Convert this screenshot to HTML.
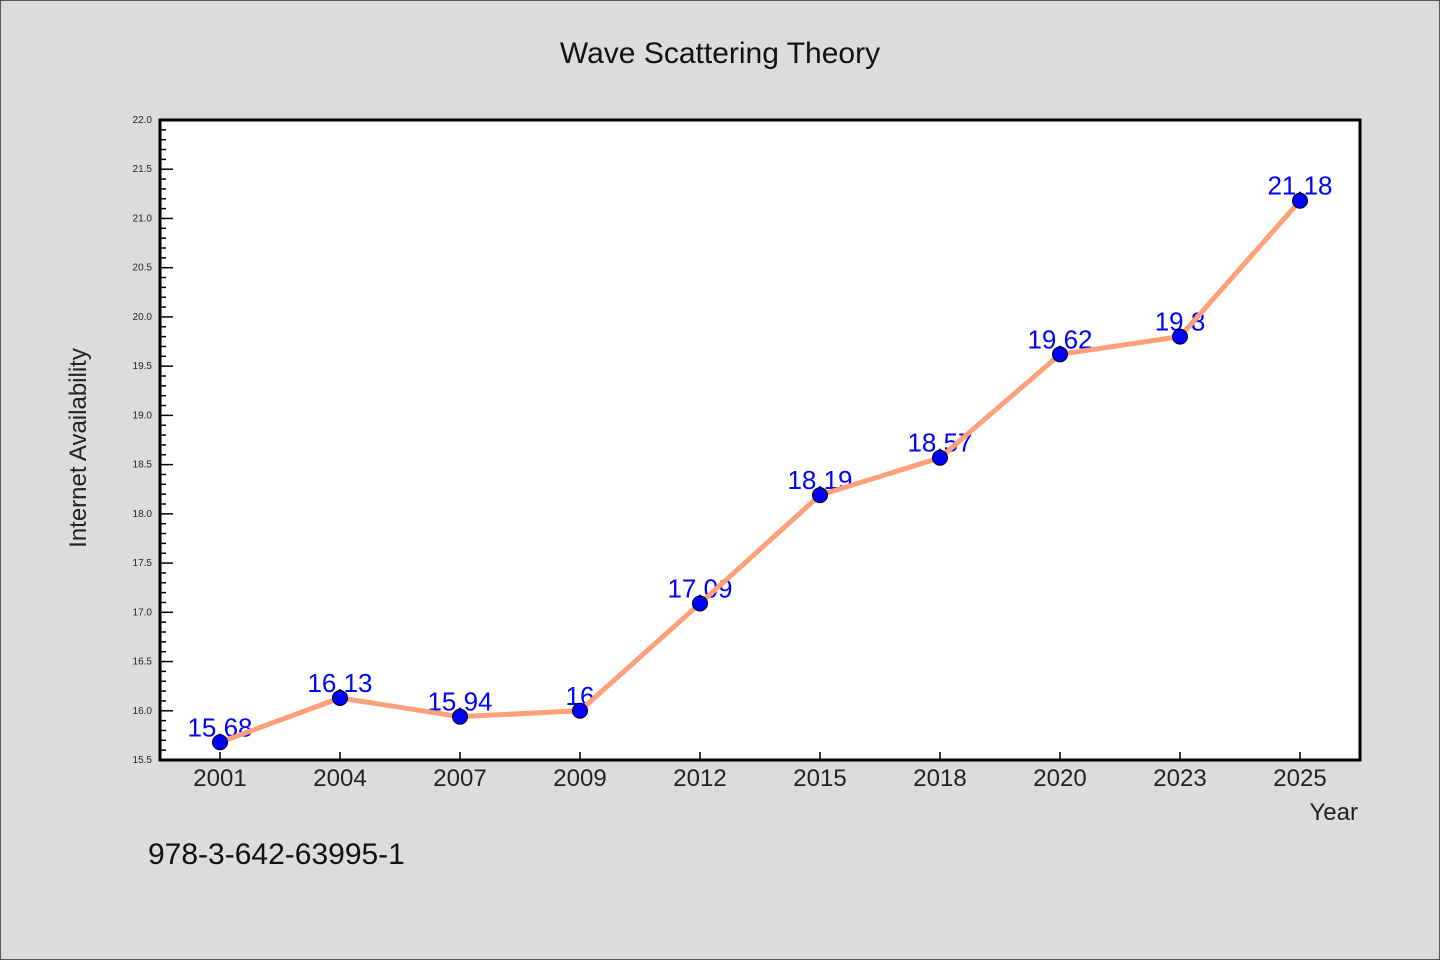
<!DOCTYPE html>
<html><head><meta charset="utf-8"><style>
body{margin:0;background:#dcdcdc;}
svg{display:block;font-family:"WenQuanYi Zen Hei","Liberation Sans",sans-serif;}
</style></head><body>
<svg id="chart" width="1440" height="960">
<rect x="0.5" y="0.5" width="1439" height="959" fill="#dcdcdc" stroke="#555"/>
<text x="720" y="63" font-size="30" text-anchor="middle" fill="#111">Wave Scattering Theory</text>
<rect x="160" y="120" width="1200" height="640" fill="#fff"/>
<g id="labels"></g><g id="ticks"></g><g id="series"></g>
<rect x="160" y="120" width="1200" height="640" fill="none" stroke="#000" stroke-width="3"/>
<text x="86" y="448" font-size="24" text-anchor="middle" fill="#222" transform="rotate(-90 86 448)">Internet Availability</text>
<text x="1358" y="820" font-size="24" text-anchor="end" fill="#222">Year</text>
<text x="148" y="864" font-size="30" fill="#111">978-3-642-63995-1</text>
</svg>
<script>
const categories=["2001","2004","2007","2009","2012","2015","2018","2020","2023","2025"];
const values=[15.68,16.13,15.94,16,17.09,18.19,18.57,19.62,19.8,21.18];
const valueLabels=["15.68","16.13","15.94","16","17.09","18.19","18.57","19.62","19.8","21.18"];
const yTicks=[15.5,16.0,16.5,17.0,17.5,18.0,18.5,19.0,19.5,20.0,20.5,21.0,21.5,22.0];
const yMin=15.5,yMax=22.0,L=160,R=1360,T=120,B=760;
const NS="http://www.w3.org/2000/svg";
const x=i=>L+(i+0.5)*(R-L)/categories.length;
const y=v=>B-(v-yMin)/(yMax-yMin)*(B-T);
function mk(tag,attrs,parent){const e=document.createElementNS(NS,tag);for(const k in attrs)e.setAttribute(k,attrs[k]);parent.appendChild(e);return e;}
const tk=document.getElementById('ticks'),lb=document.getElementById('labels'),sr=document.getElementById('series');
for(let v=yMin;v<=yMax+1e-9;v+=0.1){const yy=y(v);const maj=Math.abs(v*2-Math.round(v*2))<1e-6;
const t=mk('line',{x1:L,x2:L+(maj?13:6),y1:yy,y2:yy,stroke:'#000','stroke-width':1.5},tk);

}
yTicks.forEach(v=>{const t=mk('text',{x:L-8,y:y(v)+3,'font-size':10,'text-anchor':'end',fill:'#222'},tk);t.textContent=v.toFixed(1);

});
categories.forEach((c,i)=>{const l=mk('line',{x1:x(i),x2:x(i),y1:B,y2:B-8,stroke:'#000','stroke-width':1.5},tk);


const t=mk('text',{x:x(i),y:B+26,'font-size':24,'text-anchor':'middle',fill:'#222'},tk);t.textContent=c;


const v=mk('text',{x:x(i),y:y(values[i])-6,'font-size':26,'text-anchor':'middle',fill:'#0000ff'},lb);v.textContent=valueLabels[i];

});
const p=mk('polyline',{points:values.map((v,i)=>x(i)+','+y(v)).join(' '),fill:'none',stroke:'#ffa07a','stroke-width':5},sr);


values.forEach((v,i)=>{const c=mk('circle',{cx:x(i),cy:y(v),r:7.5,fill:'#0000ff',stroke:'#000','stroke-width':1},sr);

});
</script>
</body></html>
